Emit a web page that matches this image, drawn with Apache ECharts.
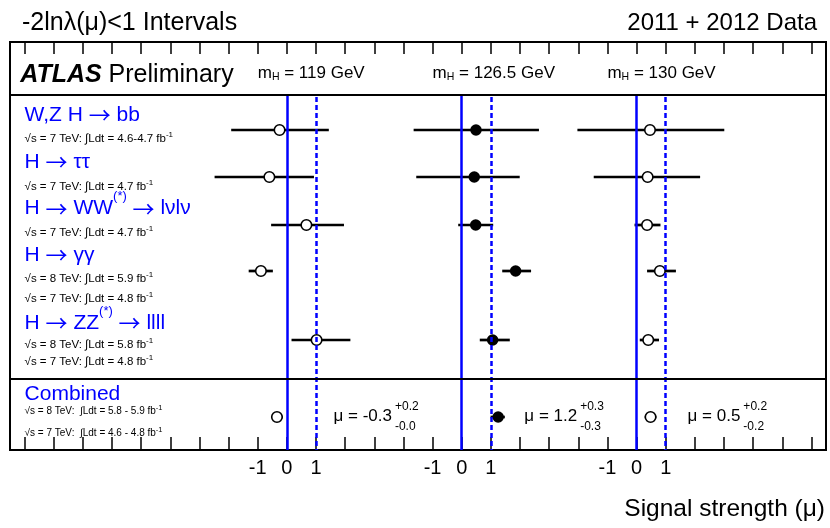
<!DOCTYPE html>
<html><head><meta charset="utf-8">
<script src="https://cdn.jsdelivr.net/npm/echarts@6.0.0/dist/echarts.min.js"></script>
<style>html,body{margin:0;padding:0;background:#fff;}#chart{width:830px;height:528px;}</style>
</head><body><div id="chart"></div>
<script>
// ===== data =====
const channels = ['W,Z H → bb', 'H → ττ', 'H → WW^(*) → lνlν', 'H → γγ', 'H → ZZ^(*) → llll', 'Combined'];
const lumiNotes = [
  ['√s = 7 TeV: ∫Ldt = 4.6-4.7 fb^-1'],
  ['√s = 7 TeV: ∫Ldt = 4.7 fb^-1'],
  ['√s = 7 TeV: ∫Ldt = 4.7 fb^-1'],
  ['√s = 8 TeV: ∫Ldt = 5.9 fb^-1', '√s = 7 TeV: ∫Ldt = 4.8 fb^-1'],
  ['√s = 8 TeV: ∫Ldt = 5.8 fb^-1', '√s = 7 TeV: ∫Ldt = 4.8 fb^-1'],
  ['√s = 8 TeV:  ∫Ldt = 5.8 - 5.9 fb^-1', '√s = 7 TeV:  ∫Ldt = 4.6 - 4.8 fb^-1']
];
const masses = ['119', '126.5', '130'];
const mu119  = [-0.25, -0.60, 0.67, -0.89, 1.02, -0.34];
const lo119  = [-1.91, -2.48, -0.54, -1.31, 0.16, -0.34];
const hi119  = [ 1.44,  0.93,  1.96, -0.48, 2.18, -0.14];
const mu1265 = [0.49, 0.43, 0.48, 1.85, 1.06, 1.25];
const lo1265 = [-1.65, -1.56, -0.12, 1.39, 0.62, 0.99];
const hi1265 = [2.65, 1.99, 1.08, 2.38, 1.65, 1.48];
const mu130  = [0.46, 0.38, 0.36, 0.80, 0.40, 0.48];
const lo130  = [-2.03, -1.47, -0.07, 0.36, 0.11, 0.28];
const hi130  = [3.01, 2.18, 0.82, 1.35, 0.77, 0.68];
const combMu = ['-0.3', '1.2', '0.5'];
const combUp = ['+0.2', '+0.3', '+0.2'];
const combDn = ['-0.0', '-0.3', '-0.2'];
const tickLabels = [-1, 0, 1];
const titleText = '-2lnλ(μ)<1 Intervals';
const dataText = '2011 + 2012 Data';
const axisTitle = 'Signal strength (μ)';
const expText = 'ATLAS';
const expSub = 'Preliminary';

// ===== layout / style =====
const FONT = "'Liberation Sans', Arial, Helvetica, sans-serif";
const ARROW_FONT = "'Noto Sans CJK SC', 'DejaVu Sans', sans-serif";
const BLUE = '#0000ff';
const PANEL_SHIFT = 6;            // axis units between the three mass panels
const X_MIN = -9.5, X_MAX = 18.5;
const Y_MAX = 408;                // vertical layout units (inverse axis)
const ROW_Y = [88, 135, 183, 229, 298, 375];
const TITLE_Y = [73, 120, 166.5, 213, 281, 352];
const NOTE_Y = [[96.5], [144.5], [190.5], [237, 256.5], [303, 320], [369, 391]];
const LABEL_X = -9;
const HEADER_X = -9.15, HEADER_Y = 33.5, MASS_X = -1, MASS_Y = 31;
const HEADER_SEP_Y = 53, COMB_SEP_Y = 337;
const COMB_X = [1.6, 2.15, 1.75];

const panels = [
  {mu: mu119, lo: lo119, hi: hi119, filled: false},
  {mu: mu1265, lo: lo1265, hi: hi1265, filled: true},
  {mu: mu130, lo: lo130, hi: hi130, filled: false}
];

function richify(str) {
  const parts = str.split(/(\^\(\*\)|\^-1|→)/);
  return parts.map(p => {
    if (p === '') return '';
    if (p === '→') return '{r|→}';
    if (p[0] === '^') return '{s|' + p.slice(1) + '}';
    return '{m|' + p + '}';
  }).join('');
}
const _ctx = document.createElement('canvas').getContext('2d');
function measure(s, size) { _ctx.font = size + 'px ' + FONT; return _ctx.measureText(s).width; }

// build marks
const barData = [], openPts = [], fillPts = [];
panels.forEach((p, k) => {
  const s = PANEL_SHIFT * k;
  channels.forEach((c, i) => {
    barData.push([p.lo[i] + s, p.hi[i] + s, ROW_Y[i]]);
    (p.filled ? fillPts : openPts).push([p.mu[i] + s, ROW_Y[i]]);
  });
});

// text specs
const titleRich = {
  m: {fontSize: 21, lineHeight: 37, fontFamily: FONT, fill: BLUE},
  r: {fontSize: 22, lineHeight: 37, fontFamily: ARROW_FONT, fill: BLUE},
  s: {fontSize: 13, lineHeight: 13, verticalAlign: 'top', fontFamily: FONT, fill: BLUE}
};
const noteRich = {
  m: {fontSize: 11.5, lineHeight: 16, fontFamily: FONT, fill: '#000'},
  s: {fontSize: 8, lineHeight: 8, verticalAlign: 'top', fontFamily: FONT, fill: '#000'}
};
const noteRichSmall = {
  m: {fontSize: 10, lineHeight: 14, fontFamily: FONT, fill: '#000'},
  s: {fontSize: 7.5, lineHeight: 7, verticalAlign: 'top', fontFamily: FONT, fill: '#000'}
};
const texts = [];
texts.push({x: HEADER_X, y: HEADER_Y, text: '{a|' + expText + '}{m| ' + expSub + '}', rich: {
  a: {fontSize: 25, fontWeight: 'bold', fontStyle: 'italic', fontFamily: FONT, fill: '#000'},
  m: {fontSize: 25, fontFamily: FONT, fill: '#000'}}});
masses.forEach((m, k) => texts.push({x: MASS_X + PANEL_SHIFT * k, y: MASS_Y,
  text: '{m|m}{s|H}{m| = ' + m + ' GeV}', rich: {
    m: {fontSize: 17, lineHeight: 20, fontFamily: FONT, fill: '#000'},
    s: {fontSize: 10.5, lineHeight: 8, verticalAlign: 'bottom', fontFamily: FONT, fill: '#000'}}}));
channels.forEach((c, i) => {
  texts.push({x: LABEL_X, y: TITLE_Y[i], text: richify(c), rich: titleRich});
  lumiNotes[i].forEach((n, j) => texts.push({x: LABEL_X, y: NOTE_Y[i][j], text: richify(n),
    rich: i === channels.length - 1 ? noteRichSmall : noteRich}));
});
combMu.forEach((m, k) => texts.push({kind: 'comb', x: COMB_X[k] + PANEL_SHIFT * k, y: ROW_Y[5] - 1,
  main: 'μ = ' + m, up: combUp[k], dn: combDn[k]}));

function renderText(params, api) {
  const t = texts[api.value(2)];
  const p = api.coord([api.value(0), api.value(1)]);
  if (t.kind === 'comb') {
    const w = measure(t.main, 17);
    return {type: 'group', children: [
      {type: 'text', x: p[0], y: p[1], style: {text: t.main, font: '17px ' + FONT, fill: '#000', align: 'left', verticalAlign: 'middle'}},
      {type: 'text', x: p[0] + w + 3, y: p[1] - 9, style: {text: t.up, font: '12px ' + FONT, fill: '#000', align: 'left', verticalAlign: 'middle'}},
      {type: 'text', x: p[0] + w + 3, y: p[1] + 11, style: {text: t.dn, font: '12px ' + FONT, fill: '#000', align: 'left', verticalAlign: 'middle'}}
    ]};
  }
  return {type: 'text', x: p[0], y: p[1], style: {text: t.text, rich: t.rich, align: 'left', verticalAlign: 'middle', fill: '#000', font: '16px ' + FONT}};
}

function renderBar(params, api) {
  const a = api.coord([api.value(0), api.value(2)]);
  const b = api.coord([api.value(1), api.value(2)]);
  return {type: 'line', shape: {x1: a[0], y1: a[1], x2: b[0], y2: b[1]}, style: {stroke: '#000', lineWidth: 2.7}};
}

// reference lines
const refLines = [];
masses.forEach((m, k) => {
  const s = PANEL_SHIFT * k;
  refLines.push([{coord: [s, HEADER_SEP_Y], lineStyle: {color: BLUE, width: 2.5, type: 'solid'}}, {coord: [s, Y_MAX]}]);
  refLines.push([{coord: [s + 1, HEADER_SEP_Y + 2], lineStyle: {color: BLUE, width: 2.5, type: [5, 3]}}, {coord: [s + 1, Y_MAX]}]);
});
refLines.push({yAxis: HEADER_SEP_Y, lineStyle: {color: '#000', width: 2, type: 'solid'}});
refLines.push({yAxis: COMB_SEP_Y, lineStyle: {color: '#000', width: 2, type: 'solid'}});

const tickVals = [];
for (let v = Math.ceil(X_MIN); v <= Math.floor(X_MAX); v++) tickVals.push(v);
const labelVals = [];
masses.forEach((m, k) => tickLabels.forEach(t => labelVals.push(t + PANEL_SHIFT * k)));

const chart = echarts.init(document.getElementById('chart'), null, {renderer: 'canvas'});
chart.setOption({
  animation: false,
  textStyle: {fontFamily: FONT},
  grid: {left: 10, right: 4, top: 42, bottom: 78, show: true, borderColor: '#000', borderWidth: 2, backgroundColor: 'transparent'},
  xAxis: [
    {type: 'value', min: X_MIN, max: X_MAX, position: 'bottom', splitLine: {show: false},
     axisLine: {show: false, onZero: false},
     axisTick: {show: true, inside: true, length: 13, customValues: tickVals, lineStyle: {color: '#000', width: 1.5}},
     axisLabel: {show: true, customValues: labelVals, margin: 8, fontSize: 20, color: '#000', fontFamily: FONT,
       formatter: v => String(Math.round(v - PANEL_SHIFT * Math.round(v / PANEL_SHIFT)))}},
    {type: 'value', min: X_MIN, max: X_MAX, position: 'top', splitLine: {show: false},
     axisLine: {show: false, onZero: false},
     axisTick: {show: true, inside: true, length: 12, customValues: tickVals, lineStyle: {color: '#000', width: 1.5}},
     axisLabel: {show: false}}
  ],
  yAxis: {type: 'value', min: 0, max: Y_MAX, inverse: true, show: false},
  graphic: [
    {type: 'text', x: 22, y: 23, style: {text: titleText, font: '25px ' + FONT, fill: '#000', align: 'left', verticalAlign: 'middle'}},
    {type: 'text', x: 817, y: 23, style: {text: dataText, font: '24px ' + FONT, fill: '#000', align: 'right', verticalAlign: 'middle'}},
    {type: 'text', x: 825, y: 509.5, style: {text: axisTitle, font: '24.5px ' + FONT, fill: '#000', align: 'right', verticalAlign: 'middle'}}
  ],
  series: [
    {type: 'scatter', data: [], z: 1, markLine: {silent: true, symbol: ['none', 'none'], label: {show: false}, animation: false, data: refLines}},
    {type: 'custom', name: 'intervals', data: barData, encode: {x: [0, 1], y: 2}, renderItem: renderBar, z: 2, silent: true},
    {type: 'scatter', name: 'open', data: openPts, symbol: 'circle', symbolSize: 10.5, z: 3, silent: true,
     itemStyle: {color: '#fff', borderColor: '#000', borderWidth: 1.6, opacity: 1}},
    {type: 'scatter', name: 'filled', data: fillPts, symbol: 'circle', symbolSize: 11.5, z: 3, silent: true,
     itemStyle: {color: '#000', opacity: 1}},
    {type: 'custom', name: 'labels', data: texts.map((t, i) => [t.x, t.y, i]), encode: {x: 0, y: 1}, renderItem: renderText, z: 4, silent: true}
  ]
});
</script></body></html>
